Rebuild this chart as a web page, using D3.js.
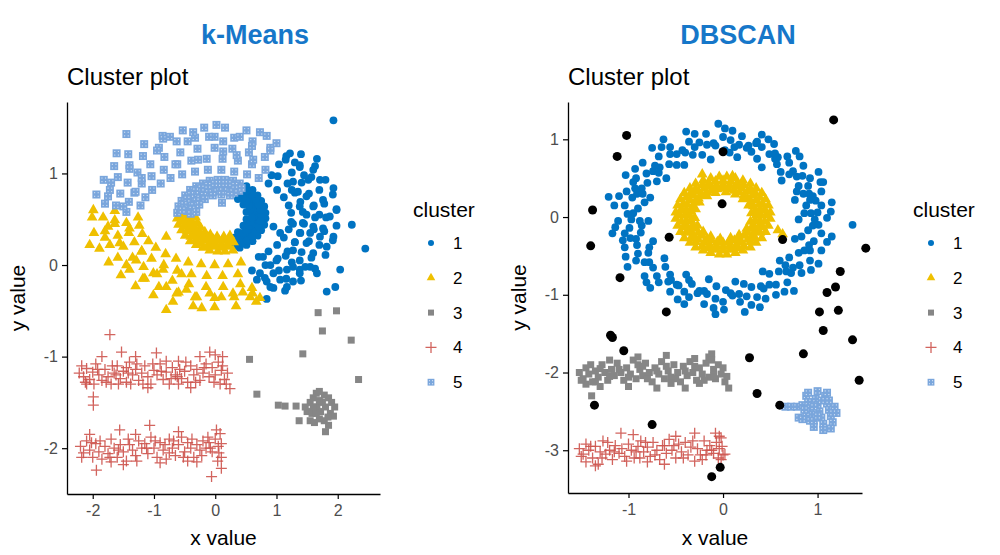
<!DOCTYPE html>
<html><head><meta charset="utf-8">
<script src="https://cdn.jsdelivr.net/npm/d3@7"></script>
<style>body{margin:0;background:#fff;} svg{display:block;font-family:"Liberation Sans",Arial,sans-serif;}</style>
</head><body><svg id="c" width="1000" height="555"></svg>
<script>
// ---------- shared ----------
const clusterColors = ["#0073C2","#EFC000","#868686","#CD534C","#7AA6DC"];
const noiseColor = "#000000";
const legendLabels = ["1","2","3","4","5"];
const panelTitles = ["k-Means","DBSCAN"];

// ---------- k-Means panel data ----------
const kmXTicks = [-2,-1,0,1,2];
const kmYTicks = [-2,-1,0,1];
const kmC1 = [
[0.39,0.27],[0.47,0.30],[0.54,0.34],[0.59,0.39],[0.64,0.43],[0.66,0.49],[0.67,0.54],[0.66,0.59],[0.64,0.65],[0.59,0.70],[0.54,0.74],[0.47,0.78],
[0.40,0.19],[0.51,0.22],[0.61,0.26],[0.69,0.32],[0.75,0.38],[0.80,0.44],[0.82,0.51],[0.82,0.57],[0.80,0.64],[0.75,0.70],[0.69,0.76],[0.61,0.82],[0.51,0.86],
[0.37,0.36],[0.46,0.43],[0.51,0.50],[0.51,0.58],[0.46,0.66],[0.37,0.72],[0.56,0.28],[0.72,0.46],[0.74,0.60],[0.58,0.80],[0.44,0.25],[0.78,0.53],
[0.60,0.56],[0.58,0.61],[0.55,0.65],[0.51,0.70],[0.45,0.73],[0.39,0.76],[0.31,0.30],[0.39,0.32],[0.45,0.35],[0.51,0.38],[0.55,0.43],[0.58,0.47],[0.60,0.52],
[0.75,0.54],[0.74,0.60],[0.71,0.66],[0.66,0.72],[0.60,0.77],[0.52,0.81],[0.32,0.21],[0.43,0.24],[0.52,0.27],[0.60,0.31],[0.66,0.37],[0.71,0.42],[0.74,0.48],
[0.81,-0.14],[1.04,-0.06],[1.25,0.03],[1.41,0.14],[1.53,0.26],[1.61,0.39],[1.63,0.52],[1.61,0.65],[1.53,0.78],[1.41,0.90],[1.25,1.01],[1.04,1.10],
[0.71,0.09],[0.87,0.15],[1.01,0.22],[1.12,0.30],[1.20,0.39],[1.24,0.47],[1.24,0.57],[1.20,0.65],[1.12,0.74],[1.01,0.82],[0.87,0.89],
[0.84,-0.37],[1.14,-0.28],[1.40,-0.17],[1.63,-0.04],[1.80,0.11],[1.92,0.27],[1.98,0.43],[1.98,0.61],[1.92,0.77],[1.80,0.93],[1.63,1.08],[1.40,1.21],
[1.43,0.58],[1.39,0.69],[1.30,0.79],[1.18,0.89],[1.02,0.97],[0.60,-0.06],[0.82,0.00],[1.02,0.07],[1.18,0.15],[1.30,0.25],[1.39,0.35],[1.43,0.46],
[1.81,0.52],[1.78,0.67],[1.70,0.82],[1.57,0.96],[1.38,1.09],[1.16,1.19],[0.90,-0.24],[1.16,-0.15],[1.38,-0.05],[1.57,0.08],[1.70,0.22],[1.78,0.37],
[1.93,1.58],[1.22,1.22],[1.66,1.16],[0.92,0.98],[1.38,1.07],[1.60,1.04],[1.27,0.91],[1.52,0.93],[1.71,0.93],[1.93,0.84],[1.25,0.82],[1.49,0.75],
[1.76,0.71],[1.60,0.64],[1.98,0.60],[1.38,0.64],[1.49,0.55],[1.87,0.53],[1.27,0.45],[1.60,0.42],[1.76,0.40],[2.23,0.44],[1.38,0.35],[1.71,0.31],
[1.93,0.31],[2.45,0.18],[1.49,0.24],[1.82,0.20],[1.60,0.13],[1.27,0.16],[1.38,0.05],[1.55,-0.02],[1.27,-0.02],[1.00,0.05],[0.78,0.09],[1.06,0.35],
[0.95,0.42],[1.66,-0.09],[1.38,-0.09],[1.17,-0.05],[0.95,-0.09],[0.73,-0.09],[0.68,-0.16],[0.84,-0.18],[1.06,-0.16],[1.27,-0.18],[2.04,-0.05],[1.82,-0.29],
[1.96,-0.24],[0.95,-0.25],[1.17,-0.24],[1.47,-0.02],[1.15,1.15],[1.30,1.12],[1.45,0.98],[1.35,0.80],[1.70,0.55],[1.45,0.45],[1.55,0.35],[1.30,0.25],[1.15,0.10],[0.90,0.00]
];
const kmC2 = [
[-0.62,0.51],[-0.60,0.44],[-0.55,0.38],[-0.49,0.32],[-0.41,0.26],[-0.31,0.22],[-0.20,0.19],[-0.09,0.16],[0.04,0.15],[0.16,0.15],[0.29,0.16],
[-0.47,0.54],[-0.46,0.49],[-0.44,0.43],[-0.39,0.39],[-0.34,0.34],[-0.27,0.30],[-0.19,0.27],[-0.09,0.25],[0.00,0.23],[0.10,0.23],[0.20,0.23],[0.30,0.25],
[-0.32,0.52],[-0.29,0.46],[-0.24,0.41],[-0.17,0.36],[-0.08,0.33],[0.03,0.31],[0.14,0.31],[0.24,0.32],
[-0.40,0.52],[-0.38,0.47],[-0.35,0.43],[-0.31,0.38],[-0.25,0.35],[-0.19,0.32],[-0.11,0.30],[-0.03,0.28],[0.06,0.27],[0.14,0.27],[0.23,0.28],
[-0.55,0.54],[-0.54,0.48],[-0.51,0.42],[-0.46,0.37],[-0.40,0.31],[-0.32,0.27],[-0.23,0.24],[-0.12,0.21],[-0.01,0.20],[0.10,0.19],[0.21,0.20],
[-1.64,0.59],[-1.64,0.45],[-1.59,0.32],[-1.50,0.20],[-1.35,0.08],[-1.17,-0.02],[-0.95,-0.10],[-0.70,-0.17],[-0.43,-0.21],[-0.15,-0.24],[0.13,-0.24],[0.41,-0.21],
[-1.26,0.52],[-1.24,0.43],[-1.19,0.34],[-1.09,0.26],[-0.97,0.19],[-0.81,0.12],[-0.64,0.07],[-0.44,0.03],[-0.23,0.01],[-0.01,0.00],[0.21,0.01],[0.42,0.03],
[-2.01,0.52],[-1.98,0.35],[-1.89,0.18],[-1.74,0.03],[-1.54,-0.11],[-1.30,-0.23],[-1.01,-0.33],[-0.69,-0.40],[-0.36,-0.45],[-0.01,-0.46],[0.34,-0.45],[0.67,-0.40],
[-1.45,0.46],[-1.41,0.35],[-1.32,0.25],[-1.20,0.15],[-1.04,0.07],[-0.84,0.00],[-0.62,-0.06],[-0.39,-0.10],[-0.14,-0.12],[0.12,-0.12],[0.37,-0.10],
[-1.83,0.52],[-1.80,0.37],[-1.72,0.22],[-1.59,0.08],[-1.40,-0.05],[-1.18,-0.15],[-0.92,-0.24],[-0.63,-0.31],[-0.33,-0.35],[-0.01,-0.36],[0.31,-0.35],[0.61,-0.31],
[-1.99,0.60],[-2.05,0.22],[-1.64,0.49],[-1.56,0.24],[-1.29,0.05],[-1.01,-0.09],[-0.80,-0.24],[-0.47,-0.27],[-0.09,-0.31],[0.29,-0.31],[0.57,-0.35],[0.73,-0.36],
[-0.80,-0.49],[-0.22,-0.47],[-1.40,0.40],[-1.80,0.30],[-1.45,0.00],[-1.15,-0.15],[-0.60,-0.30],[-0.30,-0.35],[0.10,-0.35],[0.45,-0.30],[-0.55,-0.10],[-0.85,-0.05],
[-1.20,0.15],[0.60,-0.25],[-1.75,0.42],[-0.80,0.31]
];
const kmC3 = [
[1.68,-0.52],[1.98,-0.50],[1.75,-0.72],[2.22,-0.82],[1.43,-0.97],[0.56,-1.03],[2.34,-1.25],[0.68,-1.41],[1.03,-1.53],[1.14,-1.54],[1.32,-1.54],[1.37,-1.70],
[1.55,-1.50],[1.60,-1.45],[1.65,-1.40],[1.70,-1.38],[1.78,-1.42],[1.85,-1.45],[1.90,-1.50],[1.95,-1.55],[1.50,-1.60],[1.58,-1.62],[1.66,-1.55],[1.72,-1.60],
[1.80,-1.55],[1.88,-1.62],[1.93,-1.65],[1.55,-1.70],[1.62,-1.72],[1.70,-1.68],[1.78,-1.70],[1.85,-1.75],[1.80,-1.82],[1.65,-1.62],[1.75,-1.50],[1.60,-1.55],
[1.70,-1.48],[1.84,-1.66],[1.47,-1.55]
];
const kmC4 = [
[-2.22,-1.18],[-2.15,-1.22],[-2.10,-1.13],[-2.05,-1.25],[-2.00,-1.17],[-1.98,-1.30],[-1.95,-1.08],[-1.90,-1.20],[-1.85,-1.26],[-1.80,-1.14],[-1.75,-1.22],[-1.70,-1.30],
[-1.65,-1.18],[-1.60,-1.10],[-1.55,-1.24],[-1.50,-1.16],[-1.45,-1.28],[-1.40,-1.06],[-1.35,-1.20],[-1.30,-1.14],[-1.25,-1.26],[-1.20,-1.18],[-1.15,-1.10],[-1.10,-1.22],
[-1.05,-1.30],[-1.00,-1.15],[-0.95,-1.20],[-0.90,-1.08],[-0.85,-1.25],[-0.80,-1.17],[-0.75,-1.30],[-0.70,-1.12],[-0.65,-1.20],[-0.60,-1.05],[-0.55,-1.24],[-0.50,-1.16],
[-0.45,-1.28],[-0.40,-1.10],[-0.35,-1.20],[-0.30,-1.14],[-0.25,-1.26],[-0.20,-1.18],[-0.15,-1.08],[-0.10,-1.22],[-0.05,-1.12],[0.00,-1.20],[0.05,-1.06],[0.10,-1.15],
[0.15,-1.25],[0.20,-1.18],[-1.72,-0.76],[-1.99,-1.44],[-1.99,-1.53],[-1.53,-0.95],[-0.96,-0.96],[-0.09,-0.95],[0.24,-1.35],[0.00,-0.98],[-1.30,-1.00],[-0.60,-1.30],
[-2.10,-1.30],[-1.85,-1.00],[-0.25,-1.00],[0.08,-1.30],[-1.45,-1.12],[-0.80,-1.05],[-1.10,-1.34],[-0.40,-1.34],[0.12,-1.00],
[-2.18,-1.10],[-2.12,-1.28],[-1.92,-1.14],[-1.78,-1.28],[-1.68,-1.10],[-1.58,-1.30],[-1.42,-1.18],[-1.28,-1.08],[-1.18,-1.30],[-1.02,-1.08],[-0.88,-1.16],
[-0.72,-1.24],[-0.58,-1.14],[-0.48,-1.06],[-0.32,-1.28],[-0.18,-1.12],[-0.02,-1.28],[0.12,-1.10],[0.18,-1.30],[-0.62,-1.22],[-1.38,-1.30],[-1.62,-1.20],
[-2.20,-1.98],[-2.15,-2.05],[-2.10,-1.92],[-2.05,-2.02],[-2.00,-2.10],[-1.95,-1.95],[-1.90,-2.04],[-1.85,-2.12],[-1.80,-1.98],[-1.75,-2.06],[-1.70,-1.90],[-1.65,-2.00],
[-1.60,-2.10],[-1.55,-1.96],[-1.50,-2.04],[-1.45,-2.14],[-1.40,-1.96],[-1.35,-2.02],[-1.30,-2.08],[-1.25,-1.92],[-1.20,-2.00],[-1.15,-1.95],[-1.10,-2.06],[-1.05,-1.88],
[-1.00,-2.00],[-0.95,-2.10],[-0.90,-1.94],[-0.85,-2.02],[-0.80,-2.12],[-0.75,-1.90],[-0.70,-2.00],[-0.65,-2.08],[-0.60,-1.96],[-0.55,-1.88],[-0.50,-2.04],[-0.45,-1.94],
[-0.40,-2.00],[-0.35,-2.10],[-0.30,-1.96],[-0.25,-2.02],[-0.20,-1.92],[-0.15,-2.00],[-0.10,-1.94],[-0.05,-2.04],[0.00,-1.90],[0.05,-1.98],[0.08,-1.84],[0.10,-2.10],
[-1.07,-1.75],[-1.56,-1.80],[-1.94,-2.24],[-0.06,-2.31],[0.10,-2.22],[-1.70,-2.15],[-0.90,-2.16],[-0.30,-2.15],[-1.30,-1.85],[-0.60,-1.82],[-2.05,-1.85],[0.02,-1.80],
[-0.45,-2.14],[0.06,-2.05],
[-2.18,-2.10],[-2.02,-1.94],[-1.88,-1.92],[-1.72,-2.10],[-1.58,-2.02],[-1.42,-1.90],[-1.28,-2.14],[-1.12,-2.00],[-0.98,-1.92],[-0.82,-1.96],[-0.68,-1.92],
[-0.52,-2.10],[-0.38,-1.90],[-0.22,-2.08],[-0.08,-2.00],[0.04,-2.14],[0.10,-1.95],[-0.12,-1.88],[-1.50,-2.18],[-0.75,-2.05]
];
const kmC5 = [
[0.81,1.18],[0.55,1.23],[0.28,1.27],[-0.01,1.28],[-0.29,1.27],[-0.57,1.23],[-0.83,1.18],[-1.06,1.10],[-1.27,1.01],[-1.43,0.90],[-1.55,0.78],[-1.62,0.65],
[0.71,0.95],[0.52,0.99],[0.31,1.02],[0.10,1.04],[-0.12,1.04],[-0.33,1.02],[-0.54,0.99],[-0.73,0.95],[-0.89,0.89],[-1.03,0.82],[-1.14,0.74],[-1.22,0.65],
[0.84,1.41],[0.51,1.47],[0.16,1.50],[-0.18,1.50],[-0.53,1.47],[-0.86,1.41],[-1.16,1.32],[-1.42,1.21],[-1.65,1.08],[-1.82,0.93],[-1.94,0.77],
[0.82,1.04],[0.60,1.10],[0.37,1.14],[0.12,1.16],[-0.14,1.16],[-0.39,1.14],[-0.62,1.10],[-0.84,1.04],[-1.04,0.97],[-1.20,0.89],[-1.32,0.79],[-1.41,0.69],[-1.45,0.58],
[0.90,1.28],[0.61,1.35],[0.31,1.39],[-0.01,1.40],[-0.33,1.39],[-0.63,1.35],[-0.92,1.28],[-1.18,1.19],[-1.40,1.09],[-1.59,0.96],[-1.72,0.82],[-1.80,0.67],
[-1.45,1.43],[-1.61,1.22],[-0.85,1.38],[0.02,1.53],[0.13,1.35],[-0.28,1.15],[0.13,1.24],[0.62,1.15],[-0.74,1.40],[-0.36,1.45],[0.40,1.40],[0.73,1.45],
[1.00,1.33],[-1.75,0.75],[-1.50,0.64],[-1.30,0.80],[-1.20,0.95],[-0.95,1.25],[-0.65,1.10],[-0.45,1.35],[-0.10,1.40],[0.35,1.20],[0.60,1.30],[0.90,1.25],
[-1.70,0.90],[-1.40,1.05],
[0.39,0.81],[0.29,0.83],[0.20,0.85],[0.10,0.85],[0.00,0.85],[-0.09,0.83],[-0.19,0.81],[-0.27,0.78],[-0.34,0.74],[-0.39,0.70],[-0.44,0.65],[-0.46,0.59],
[0.40,0.89],[0.29,0.92],[0.16,0.93],[0.04,0.93],[-0.09,0.92],[-0.20,0.89],[-0.31,0.86],[-0.41,0.82],[-0.49,0.76],[-0.55,0.70],[-0.60,0.64],[-0.62,0.57],
[0.31,0.79],[0.23,0.80],[0.14,0.81],[0.06,0.81],[-0.03,0.80],[-0.11,0.79],[-0.19,0.76],[-0.25,0.73],[-0.31,0.70],[-0.35,0.65],[-0.38,0.61],[-0.40,0.56],
[0.43,0.84],[0.32,0.87],[0.21,0.89],[0.10,0.89],[-0.01,0.89],[-0.12,0.87],[-0.23,0.84],[-0.32,0.81],[-0.40,0.77],[-0.46,0.72],[-0.51,0.66],[-0.54,0.60],
[0.24,0.76],[0.10,0.77],[-0.04,0.76],[-0.17,0.72],[-0.26,0.66],[-0.31,0.58],[0.11,0.68]
];

// ---------- DBSCAN panel data ----------
const dbXTicks = [-1,0,1];
const dbYTicks = [-3,-2,-1,0,1];
const dbC1 = [
[0.80,-0.03],[0.76,0.22],[0.62,0.47],[0.41,0.64],[0.15,0.77],[-0.13,0.74],[-0.41,0.67],[-0.60,0.50],[-0.77,0.25],[-0.79,-0.05],[-0.74,-0.31],[-0.62,-0.53],
[-0.39,-0.74],[-0.15,-0.80],[0.13,-0.83],[0.42,-0.70],[0.60,-0.56],[0.76,-0.28],
[0.86,0.05],[0.78,0.33],[0.61,0.58],[0.36,0.75],[0.07,0.83],[-0.22,0.80],[-0.49,0.67],[-0.70,0.46],[-0.83,0.19],[-0.86,-0.11],[-0.78,-0.39],[-0.61,-0.64],
[-0.36,-0.81],[-0.07,-0.89],[0.22,-0.86],[0.49,-0.73],[0.70,-0.52],[0.83,-0.25],
[0.88,0.15],[0.80,0.40],[0.57,0.68],[0.30,0.84],[0.02,0.86],[-0.32,0.80],[-0.57,0.68],[-0.80,0.44],[-0.90,0.11],[-0.87,-0.20],[-0.79,-0.46],[-0.56,-0.74],
[-0.33,-0.86],[0.03,-0.94],[0.30,-0.90],[0.59,-0.70],[0.80,-0.46],[0.90,-0.17],
[0.92,0.22],[0.78,0.52],[0.55,0.75],[0.25,0.89],[-0.08,0.92],[-0.40,0.83],[-0.67,0.64],[-0.86,0.37],[-0.95,0.05],[-0.92,-0.28],[-0.78,-0.58],[-0.55,-0.81],
[-0.25,-0.95],[0.08,-0.98],[0.40,-0.89],[0.67,-0.70],[0.86,-0.43],[0.95,-0.11],
[0.97,-0.03],[0.91,0.30],[0.74,0.59],[0.49,0.81],[0.17,0.93],[-0.17,0.93],[-0.49,0.81],[-0.74,0.59],[-0.91,0.30],[-0.97,-0.03],[-0.91,-0.36],[-0.74,-0.65],
[-0.49,-0.87],[-0.17,-0.99],[0.17,-0.99],[0.49,-0.87],[0.74,-0.65],[0.91,-0.36],
[1.00,0.06],[0.98,0.21],[0.90,0.40],[0.84,0.53],[0.70,0.70],[0.58,0.77],[0.41,0.90],[0.27,0.92],[0.08,0.99],[-0.10,0.95],[-0.25,0.96],[-0.43,0.86],
[-0.56,0.81],[-0.72,0.66],[-0.81,0.56],[-0.93,0.37],[-0.96,0.25],[-1.01,0.04],[-0.99,-0.14],[-0.98,-0.27],[-0.90,-0.47],[-0.83,-0.58],[-0.70,-0.76],[-0.58,-0.83],
[-0.41,-0.96],[-0.27,-0.98],[-0.08,-1.05],[0.10,-1.01],[0.25,-1.02],[0.43,-0.92],[0.56,-0.87],[0.72,-0.72],[0.81,-0.62],[0.92,-0.43],[0.96,-0.31],[1.01,-0.10],
[1.04,0.15],[0.92,0.50],[0.68,0.78],[0.36,0.97],[0.00,1.03],[-0.36,0.97],[-0.68,0.78],[-0.92,0.50],[-1.04,0.15],[-1.04,-0.21],[-0.92,-0.56],[-0.68,-0.84],
[-0.36,-1.03],[0.00,-1.09],[0.36,-1.03],[0.68,-0.84],[0.92,-0.56],[1.04,-0.21],
[1.10,-0.01],[1.04,0.33],[0.85,0.66],[0.54,0.94],[0.20,1.04],[-0.18,1.07],[-0.56,0.90],[-0.85,0.70],[-1.02,0.33],[-1.11,-0.05],[-1.04,-0.39],[-0.83,-0.76],
[-0.56,-0.96],[-0.20,-1.12],[0.18,-1.09],[0.56,-1.00],[0.83,-0.72],[1.04,-0.43],
[1.14,0.07],[1.03,0.45],[0.81,0.78],[0.48,1.00],[0.10,1.11],[-0.30,1.07],[-0.65,0.90],[-0.93,0.62],[-1.10,0.27],[-1.14,-0.13],[-1.03,-0.51],[-0.81,-0.84],
[-0.48,-1.06],[-0.10,-1.17],[0.30,-1.13],[0.65,-0.96],[0.93,-0.68],[1.10,-0.32],
[1.15,0.19],[1.01,0.58],[0.77,0.85],[0.41,1.06],[0.02,1.14],[-0.39,1.10],[-0.75,0.89],[-1.03,0.54],[-1.15,0.15],[-1.17,-0.21],[-1.01,-0.64],[-0.77,-0.91],
[-0.41,-1.12],[0.01,-1.19],[0.39,-1.16],[0.75,-0.95],[1.01,-0.60],[1.15,-0.25],
[1.37,-0.10],[-1.21,0.26],[-0.05,1.20],[-0.63,1.00],[0.23,-1.22],[-0.08,-1.25],[0.55,0.82],[-0.95,0.45],[-0.88,-0.05],[0.93,0.05],[0.95,0.27],[-0.68,0.57],
[0.66,-0.62],[-0.47,-0.88],[0.35,0.95],[-0.30,0.90],[0.70,0.55],[-1.06,-0.30],[1.06,0.45],[-0.20,-0.95],[0.45,-1.05],[0.85,0.30],[-0.85,0.30],[0.12,0.90]
];
const dbC2 = [
[0.40,0.02],[0.39,0.09],[0.38,0.16],[0.35,0.22],[0.31,0.28],[0.26,0.33],[0.20,0.37],[0.14,0.40],[0.07,0.41],[0.00,0.42],[-0.07,0.41],[-0.14,0.40],
[-0.20,0.37],[-0.26,0.33],[-0.31,0.28],[-0.35,0.22],[-0.38,0.16],[-0.39,0.09],[-0.40,0.02],[-0.39,-0.05],[-0.38,-0.12],[-0.35,-0.18],[-0.31,-0.24],[-0.26,-0.29],
[-0.20,-0.33],[-0.14,-0.36],[-0.07,-0.37],[0.00,-0.38],[0.07,-0.37],[0.14,-0.36],[0.20,-0.33],[0.26,-0.29],[0.31,-0.24],[0.35,-0.18],[0.38,-0.12],[0.39,-0.05],
[0.35,0.02],[0.34,0.08],[0.32,0.14],[0.30,0.19],[0.26,0.24],[0.22,0.28],[0.17,0.32],[0.12,0.34],[0.06,0.36],[0.00,0.37],[-0.06,0.36],[-0.12,0.34],
[-0.17,0.32],[-0.22,0.28],[-0.26,0.24],[-0.30,0.19],[-0.32,0.14],[-0.34,0.08],[-0.35,0.02],[-0.34,-0.04],[-0.32,-0.10],[-0.30,-0.15],[-0.26,-0.20],[-0.22,-0.24],
[-0.17,-0.28],[-0.12,-0.30],[-0.06,-0.32],[0.00,-0.33],[0.06,-0.32],[0.12,-0.30],[0.17,-0.28],[0.22,-0.24],[0.26,-0.20],[0.30,-0.15],[0.32,-0.10],[0.34,-0.04],
[0.45,0.02],[0.44,0.10],[0.42,0.17],[0.39,0.25],[0.34,0.31],[0.29,0.36],[0.22,0.41],[0.15,0.44],[0.08,0.46],[0.00,0.47],[-0.08,0.46],[-0.15,0.44],
[-0.22,0.41],[-0.29,0.36],[-0.34,0.31],[-0.39,0.25],[-0.42,0.17],[-0.44,0.10],[-0.45,0.02],[-0.44,-0.06],[-0.42,-0.13],[-0.39,-0.20],[-0.34,-0.27],[-0.29,-0.32],
[-0.22,-0.37],[-0.15,-0.40],[-0.08,-0.42],[0.00,-0.43],[0.08,-0.42],[0.15,-0.40],[0.22,-0.37],[0.29,-0.32],[0.34,-0.27],[0.39,-0.20],[0.42,-0.13],[0.44,-0.06],
[0.50,0.06],[0.48,0.15],[0.45,0.23],[0.41,0.31],[0.35,0.37],[0.29,0.43],[0.21,0.47],[0.13,0.50],[0.04,0.52],[-0.04,0.52],[-0.13,0.50],[-0.21,0.47],
[-0.29,0.43],[-0.35,0.37],[-0.41,0.31],[-0.45,0.23],[-0.48,0.15],[-0.50,0.06],[-0.50,-0.02],[-0.48,-0.11],[-0.45,-0.19],[-0.41,-0.27],[-0.35,-0.33],[-0.29,-0.39],
[-0.21,-0.43],[-0.13,-0.46],[-0.04,-0.48],[0.04,-0.48],[0.13,-0.46],[0.21,-0.43],[0.29,-0.39],[0.35,-0.33],[0.41,-0.27],[0.45,-0.19],[0.48,-0.11],[0.50,-0.02],
[0.30,0.05],[0.27,0.15],[0.21,0.23],[0.13,0.29],[0.03,0.32],[-0.08,0.31],[-0.17,0.27],[-0.25,0.19],[-0.29,0.10],[-0.30,-0.01],[-0.27,-0.11],[-0.21,-0.19],
[-0.13,-0.25],[-0.03,-0.28],[0.08,-0.27],[0.17,-0.23],[0.25,-0.15],[0.29,-0.06],
[0.58,-0.17],[0.63,-0.22],[-0.22,0.55],[0.10,0.53]
];
const dbC3 = [
[-1.52,-2.00],[-1.48,-2.08],[-1.45,-1.94],[-1.42,-2.02],[-1.38,-2.12],[-1.39,-2.30],[-1.35,-1.98],[-1.32,-2.06],[-1.28,-1.90],[-1.25,-2.00],[-1.22,-2.10],[-1.18,-1.96],
[-1.15,-2.04],[-1.12,-1.88],[-1.08,-2.00],[-1.05,-2.10],[-1.02,-1.94],[-0.98,-2.02],[-0.95,-1.84],[-0.92,-2.08],[-0.88,-1.96],[-0.85,-2.04],[-0.82,-1.88],[-0.78,-2.00],
[-0.75,-2.12],[-0.72,-1.94],[-0.68,-2.02],[-0.65,-1.86],[-0.62,-2.08],[-0.58,-1.98],[-0.55,-2.06],[-0.52,-1.90],[-0.48,-2.00],[-0.45,-2.12],[-0.42,-1.92],[-0.38,-2.04],
[-0.35,-1.86],[-0.32,-2.00],[-0.28,-2.10],[-0.25,-1.94],[-0.22,-2.02],[-0.18,-1.88],[-0.15,-2.06],[-0.12,-1.76],[-0.10,-1.96],[-0.08,-2.08],[-0.05,-1.90],[-0.02,-2.02],
[0.02,-2.12],[0.06,-2.20],[-1.30,-2.18],[-1.00,-2.18],[-0.70,-2.20],[-0.40,-2.20],[-0.15,-1.80],[-0.90,-1.80],[-0.60,-1.78],[-1.20,-1.84],[-0.30,-1.82],[-1.45,-2.15],
[-1.50,-2.10],[-1.40,-1.90],[-1.30,-1.95],[-1.20,-2.05],[-1.10,-1.96],[-1.00,-2.06],[-0.90,-1.90],[-0.80,-2.08],[-0.70,-1.98],[-0.60,-1.92],[-0.50,-2.08],
[-0.40,-1.98],[-0.30,-1.92],[-0.20,-2.10],[-0.10,-2.04],[0.00,-1.94],[0.04,-2.05],[-1.35,-2.12],[-0.85,-1.92],[-0.55,-2.14],[-0.25,-2.14],[-0.12,-1.84]
];
const dbC4 = [
[-1.52,-2.98],[-1.48,-3.05],[-1.45,-2.92],[-1.42,-3.00],[-1.38,-3.10],[-1.35,-2.95],[-1.32,-3.18],[-1.30,-3.02],[-1.27,-2.88],[-1.24,-3.05],[-1.20,-3.00],[-1.17,-3.12],
[-1.14,-2.94],[-1.10,-3.04],[-1.07,-2.98],[-1.04,-3.08],[-1.00,-2.92],[-0.97,-3.00],[-0.94,-3.10],[-0.90,-2.95],[-0.87,-2.88],[-0.84,-3.02],[-0.80,-2.96],[-0.77,-3.08],
[-0.74,-2.90],[-0.70,-3.00],[-0.67,-3.12],[-0.64,-2.94],[-0.60,-3.04],[-0.57,-2.86],[-0.54,-3.00],[-0.50,-3.10],[-0.47,-2.92],[-0.44,-3.02],[-0.40,-2.90],[-0.37,-3.06],
[-0.34,-2.96],[-0.30,-3.14],[-0.27,-2.98],[-0.24,-3.06],[-0.20,-2.88],[-0.17,-3.00],[-0.14,-2.94],[-0.10,-3.04],[-0.07,-2.90],[-0.04,-2.98],[-0.02,-2.84],[0.00,-3.06],
[-1.08,-2.78],[-0.95,-2.80],[-1.35,-3.20],[-0.62,-3.18],[-0.30,-2.78],[-0.08,-2.78],[-0.04,-2.82],[-0.02,-3.12],[0.02,-3.05],[-1.45,-3.15],[-0.80,-3.15],[-0.50,-2.82],
[-0.22,-3.12],
[-1.50,-3.08],[-1.40,-2.95],[-1.28,-3.10],[-1.15,-3.02],[-1.02,-3.14],[-0.92,-3.02],[-0.82,-2.90],[-0.72,-3.06],[-0.62,-2.94],[-0.52,-2.94],[-0.42,-3.10],
[-0.32,-2.88],[-0.18,-3.06],[-0.12,-3.00],[-0.05,-3.10],[-0.01,-2.95],[-1.22,-2.90],[-0.88,-3.10]
];
const dbC5 = [
[0.66,-2.44],[0.72,-2.44],[0.78,-2.44],[0.84,-2.42],[0.80,-2.58],[0.84,-2.60],[0.88,-2.30],[0.90,-2.38],[0.92,-2.46],[0.94,-2.54],[0.96,-2.62],[0.98,-2.34],
[1.00,-2.42],[1.02,-2.50],[1.04,-2.58],[1.06,-2.66],[1.08,-2.30],[1.10,-2.40],[1.12,-2.48],[1.14,-2.56],[1.16,-2.64],[1.18,-2.44],[1.20,-2.52],[0.90,-2.26],
[1.00,-2.24],[1.10,-2.26],[0.88,-2.56],[0.96,-2.70],[1.06,-2.74],[1.14,-2.72],[0.92,-2.62],[1.00,-2.56],[1.04,-2.36],[0.96,-2.44],[1.12,-2.36],[1.16,-2.52],[0.86,-2.48]
];
const dbNoise = [
[-1.02,1.05],[-1.12,0.78],[0.00,0.84],[1.17,1.25],[-1.38,0.09],[-1.40,-0.37],[-0.01,0.17],[-0.57,-0.26],[0.63,-0.29],[1.51,-0.40],[-1.09,-0.78],[1.24,-0.70],
[1.10,-0.97],[1.19,-0.90],[-0.60,-1.22],[1.02,-1.22],[1.22,-1.20],[1.06,-1.46],[-1.19,-1.52],[-1.17,-1.55],[1.37,-1.58],[-1.05,-1.72],[0.85,-1.76],[0.28,-1.81],
[1.44,-2.10],[0.36,-2.27],[-1.36,-2.42],[0.60,-2.42],[-0.75,-2.67],[-0.03,-3.22],[-0.12,-3.34]
];

// ---------- drawing ----------
const svg = d3.select("#c");
const TITLE_COLOR = "#1677C9";

function drawMarker(g, cls, x, y, legend) {
  const col = cls === 0 ? noiseColor : clusterColors[cls-1];
  if (cls === 0) {
    g.append("circle").attr("cx",x).attr("cy",y).attr("r",legend?3.6:4.5).attr("fill",col);
  } else if (cls === 1) {
    g.append("circle").attr("cx",x).attr("cy",y).attr("r",legend?3.0:3.9).attr("fill",col);
  } else if (cls === 2) {
    g.append("path").attr("transform",`translate(${x},${y})`)
     .attr("d", d3.symbol(d3.symbolTriangle, legend?32:50)()).attr("fill",col);
  } else if (cls === 3) {
    const s = legend?6:7;
    g.append("rect").attr("x",x-s/2).attr("y",y-s/2).attr("width",s).attr("height",s).attr("fill",col);
  } else if (cls === 4) {
    const h = 5.5;
    g.append("path").attr("d",`M${x-h},${y}H${x+h}M${x},${y-h}V${y+h}`)
     .attr("stroke",col).attr("stroke-width",1.3).attr("fill","none").attr("opacity",0.9);
  } else {
    const h = legend?3.4:4.0;
    g.append("rect").attr("x",x-h).attr("y",y-h).attr("width",2*h).attr("height",2*h).attr("fill",col);
    const d = h*0.45;
    [[-d,-d],[d,-d],[-d,d],[d,d]].forEach(o => {
      g.append("rect").attr("x",x+o[0]-0.55).attr("y",y+o[1]-0.55).attr("width",1.1).attr("height",1.1)
       .attr("fill","#d4e2f4");
    });
  }
}

function drawPanel(cfg) {
  const x = d3.scaleLinear().domain(cfg.xDom).range([cfg.left, cfg.right]);
  const y = d3.scaleLinear().domain(cfg.yDom).range([cfg.bottom, cfg.top]);
  const g = svg.append("g");

  svg.append("text").attr("x",cfg.titleX).attr("y",44).attr("text-anchor","middle")
    .attr("font-size",27).attr("font-weight","bold").attr("fill",TITLE_COLOR).text(cfg.title);
  svg.append("text").attr("x",cfg.left).attr("y",85).attr("font-size",24).attr("fill","#000").text("Cluster plot");

  const pg = g.append("g");
  cfg.series.forEach(s => {
    s.pts.forEach(p => drawMarker(pg, s.cls, x(p[0]), y(p[1]), false));
  });

  const xa = g.append("g").attr("transform",`translate(0,${cfg.bottom})`)
    .call(d3.axisBottom(x).tickValues(cfg.xTicks).tickSize(5).tickSizeOuter(0).tickPadding(6).tickFormat(d3.format("d")));
  const ya = g.append("g").attr("transform",`translate(${cfg.left},0)`)
    .call(d3.axisLeft(y).tickValues(cfg.yTicks).tickSize(5).tickSizeOuter(0).tickPadding(4).tickFormat(d3.format("d")));
  [xa,ya].forEach(a => {
    a.select(".domain").attr("stroke","#000").attr("stroke-width",1.3);
    a.selectAll(".tick line").attr("stroke","#000").attr("stroke-width",1.2);
    a.selectAll(".tick text").attr("fill","#4D4D4D").attr("font-size",16)
      .attr("font-family","'Liberation Sans',Arial,sans-serif").text(d => d < 0 ? "-" + Math.abs(d) : String(d));
  });

  svg.append("text").attr("x",(cfg.left+cfg.right)/2).attr("y",545).attr("text-anchor","middle")
    .attr("font-size",21).attr("fill","#000").text("x value");
  svg.append("text").attr("transform",`translate(${cfg.left-42},${(cfg.top+cfg.bottom)/2}) rotate(-90)`)
    .attr("text-anchor","middle").attr("font-size",21).attr("fill","#000").text("y value");

  const lg = svg.append("g");
  lg.append("text").attr("x",cfg.legX).attr("y",217).attr("font-size",21).attr("fill","#000").text("cluster");
  legendLabels.forEach((lab,i) => {
    const cy = 243 + i*34.8;
    drawMarker(lg, i+1, cfg.legX+18, cy, true);
    lg.append("text").attr("x",cfg.legX+40).attr("y",cy+6).attr("font-size",17).attr("fill","#000").text(lab);
  });
}

drawPanel({
  title: panelTitles[0], titleX: 255,
  left: 67, right: 380, top: 102, bottom: 494,
  xDom: [-2.42, 2.69], yDom: [-2.50, 1.78],
  xTicks: kmXTicks, yTicks: kmYTicks, legX: 413,
  series: [{cls:1,pts:kmC1},{cls:2,pts:kmC2},{cls:5,pts:kmC5},{cls:3,pts:kmC3},{cls:4,pts:kmC4}]
});
drawPanel({
  title: panelTitles[1], titleX: 738,
  left: 568, right: 862, top: 102, bottom: 493,
  xDom: [-1.64, 1.47], yDom: [-3.55, 1.48],
  xTicks: dbXTicks, yTicks: dbYTicks, legX: 913,
  series: [{cls:1,pts:dbC1},{cls:2,pts:dbC2},{cls:3,pts:dbC3},{cls:4,pts:dbC4},{cls:5,pts:dbC5},{cls:0,pts:dbNoise}]
});
</script></body></html>
